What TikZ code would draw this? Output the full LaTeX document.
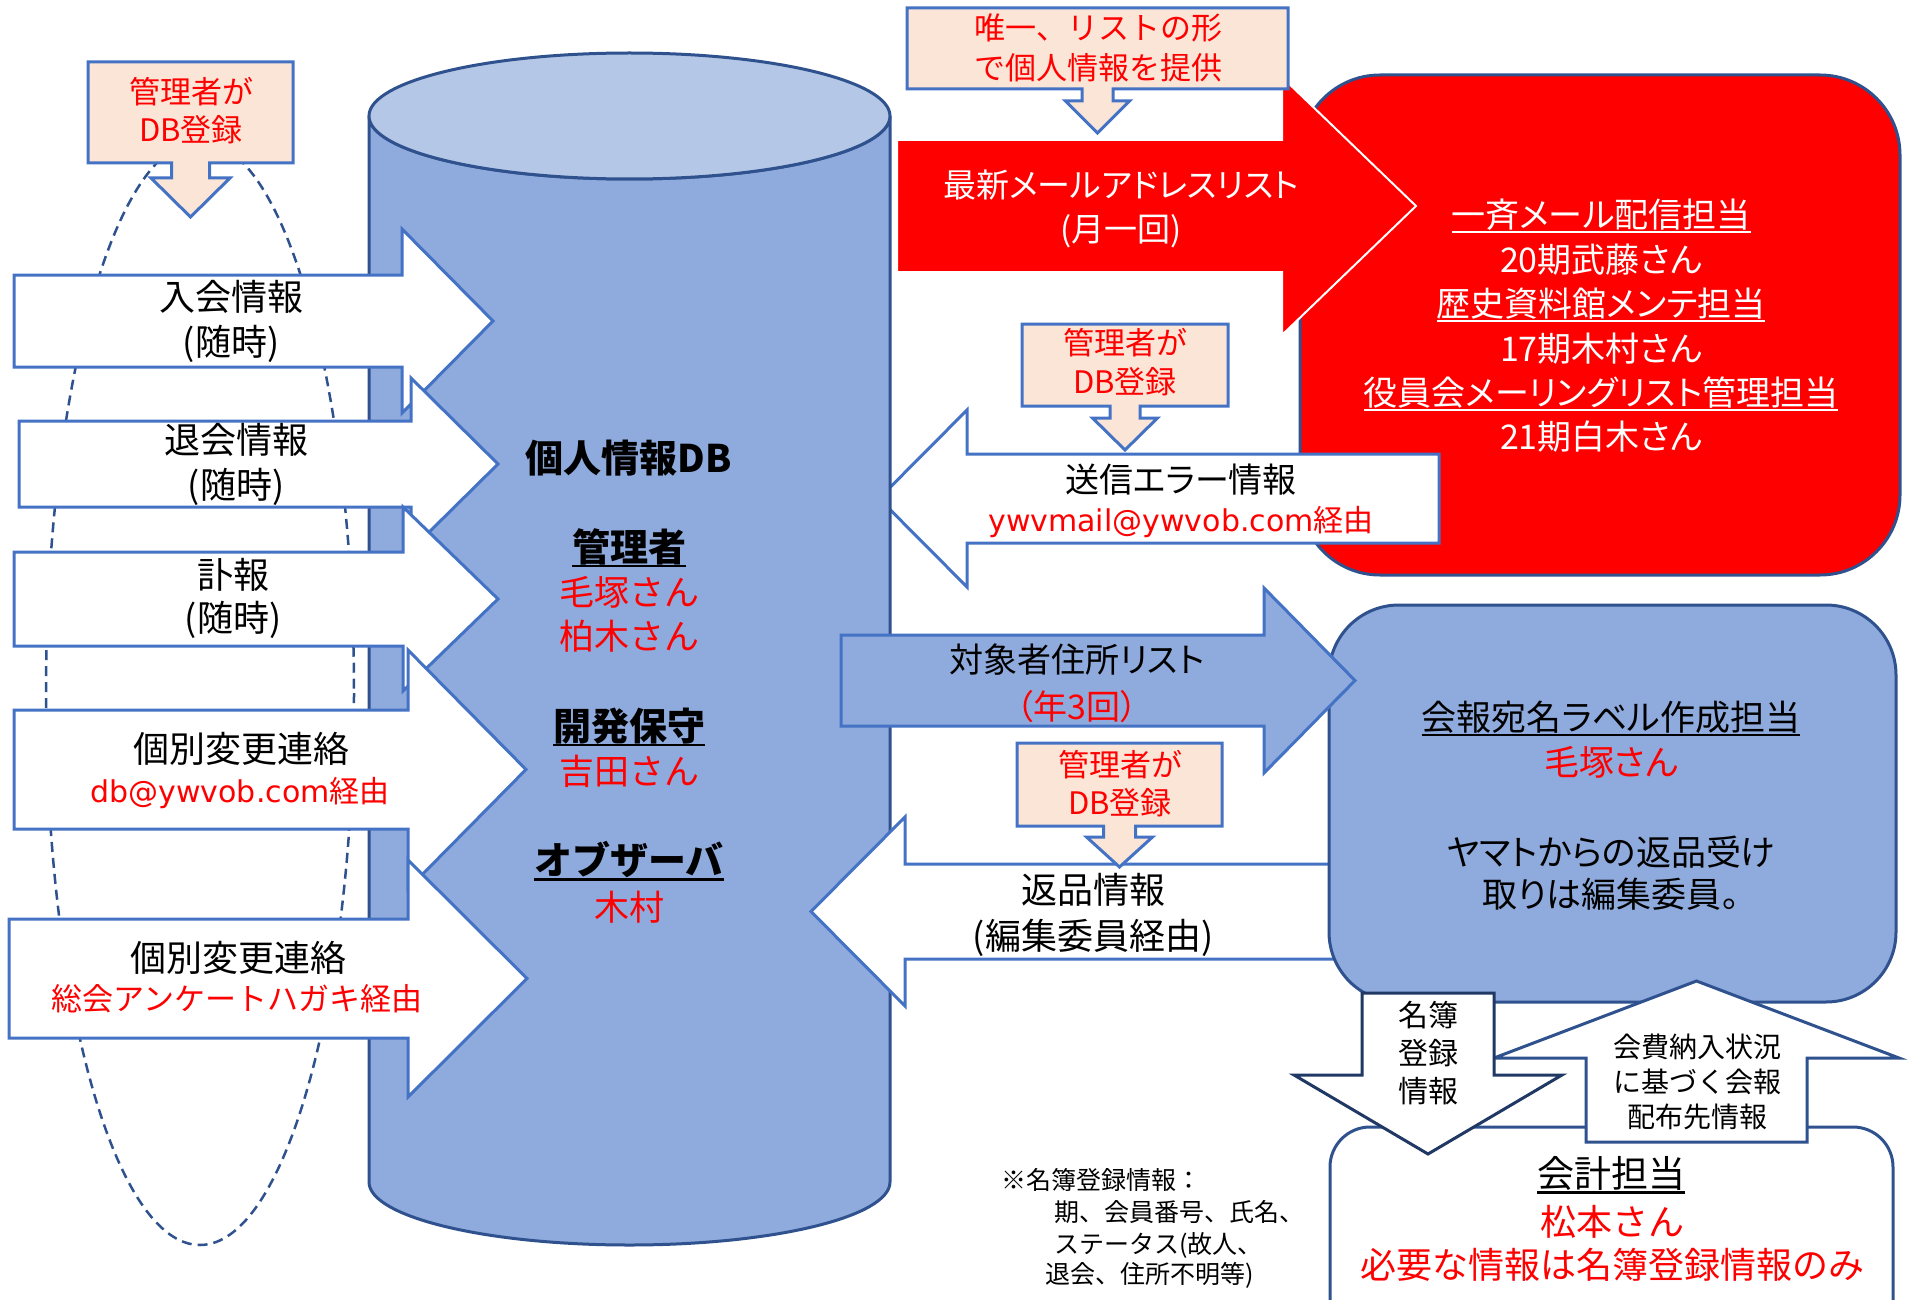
\documentclass[tikz,border=0pt]{standalone}
\usepackage{fontspec}
\setmainfont{Noto Sans CJK JP}
\newfontfamily\pjp[RawFeature=+palt]{Noto Sans CJK JP}
\newfontfamily\lat{DejaVu Sans}
\definecolor{callfill}{HTML}{FBE5D6}
\definecolor{blueline}{HTML}{4472C4}
\definecolor{darkline}{HTML}{2F528F}
\definecolor{cylfill}{HTML}{8FAADC}
\definecolor{cyltop}{HTML}{B4C7E7}
\definecolor{navyline}{HTML}{203864}
\definecolor{pptred}{HTML}{FF0000}
\newcommand\fsz[2]{\fontsize{#1}{#2}\selectfont}
\newcommand\ulx[1]{\leavevmode\setbox0=\hbox{#1}\rlap{\rule[-0.16em]{\wd0}{0.06em}}\box0}
% horizontal block arrow: style, start x, body top, body bottom, neck x, head top, tip x
\newcommand\harrow[7]{\path[#1] (#2,#3) -- (#5,#3) -- (#5,#6) -- (#7,{(#3+#4)/2}) -- (#5,{#3+#4-#6}) -- (#5,#4) -- (#2,#4) -- cycle;}
% vertical block arrow: style, start y, body left, body right, neck y, head left, tip y
\newcommand\varrow[7]{\path[#1] (#3,#2) -- (#3,#5) -- (#6,#5) -- ({(#3+#4)/2},#7) -- ({#3+#4-#6},#5) -- (#4,#5) -- (#4,#2) -- cycle;}
% down-arrow callout: x1 y1 x2 y2 stemhalf necky headhalf tipy
\newcommand\callout[8]{\path[callstyle] (#1,#2) -- (#3,#2) -- (#3,#4) -- ({(#1+#3)/2+#5},#4) -- ({(#1+#3)/2+#5},#6) -- ({(#1+#3)/2+#7},#6) -- ({(#1+#3)/2},#8) -- ({(#1+#3)/2-#7},#6) -- ({(#1+#3)/2-#5},#6) -- ({(#1+#3)/2-#5},#4) -- (#1,#4) -- cycle;}
\begin{document}
\begin{tikzpicture}[x=1pt,y=-1pt,
  arrw/.style={draw=blueline,fill=white,line width=3pt,line join=miter},
  arrwdark/.style={draw=darkline,fill=white,line width=3pt,line join=miter},
  arrwnavy/.style={draw=navyline,fill=white,line width=3pt,line join=miter},
  bluearr/.style={draw=blueline,fill=cylfill,line width=3pt,line join=miter},
  redarr/.style={draw=white,fill=pptred,line width=2pt,line join=miter},
  callstyle/.style={draw=blueline,fill=callfill,line width=3pt,line join=miter},
  txt/.style={inner sep=0pt,align=center}]
\fill[white] (0,0) rectangle (1909,1300);
\useasboundingbox (0,0) rectangle (1909,1300);
% dashed grouping ellipse
\draw[darkline,line width=2.5pt,dash pattern=on 10pt off 6pt] (200,693) ellipse [x radius=154, y radius=552];
% red box
\draw[darkline,fill=pptred,line width=3pt,rounded corners=80pt] (1300,75) rectangle (1900,575);
% send error arrow (behind DB)
\harrow{arrw}{1439}{454}{543}{967}{410}{879}
% cylinder
\path[draw=darkline,fill=cylfill,line width=3pt] (369,116) -- (369,1182) arc[start angle=180,end angle=0,x radius=260.5,y radius=63] -- (890,116) arc[start angle=0,end angle=180,x radius=260.5,y radius=63] -- cycle;
\draw[darkline,fill=cyltop,line width=3pt] (629.5,116) ellipse [x radius=260.5, y radius=63];
% left arrows
\harrow{arrw}{14}{275}{367}{402}{229}{493}
\harrow{arrw}{19}{421}{507}{411}{378}{498}
\harrow{arrw}{14}{552}{646}{403}{507}{498}
\harrow{arrw}{14}{710}{829}{408}{650}{526}
\harrow{arrw}{9}{919}{1038}{408}{860}{527}
% red arrow
\harrow{redarr}{897}{140}{272}{1282}{77}{1416}
% return arrow, blue box, address list arrow
\harrow{arrw}{1335}{864}{959}{905}{817}{811}
\draw[darkline,fill=cylfill,line width=3pt,rounded corners=70pt] (1329,605) rectangle (1896,1002);
\harrow{bluearr}{841}{635}{726}{1264}{588}{1355}
% callouts
\callout{88}{62}{293}{163}{19}{178}{39.5}{217}
\callout{907}{8}{1288}{89}{15.5}{101}{32}{133}
\callout{1022}{324}{1228}{406}{15}{418}{32.5}{450}
\callout{1017}{743}{1222}{826}{16}{837}{33}{867}
% accounting box and vertical arrows
\draw[darkline,fill=white,line width=3pt,rounded corners=40pt] (1330,1127) rectangle (1893,1345);
\varrow{arrwdark}{1142}{1586}{1807}{1058}{1494}{981}
\varrow{arrwnavy}{993}{1362}{1494}{1075}{1294}{1154}
% texts
\node[txt,text=pptred,font=\fsz{31}{38}] (c1t) at (191,111) {管理者が\\DB登録};
\node[txt,text=pptred,font=\fsz{31}{40}] (c2t) at (1098,48) {唯一、リストの形\\で個人情報を提供};
\node[txt,text=pptred,font=\fsz{31}{39}] (c3t) at (1125,362.5) {管理者が\\DB登録};
\node[txt,text=pptred,font=\fsz{31}{38}] (c4t) at (1120,784) {管理者が\\DB登録};
\node[txt,font=\fsz{36}{45}] (a1t) at (231,321) {入会情報\\(随時)};
\node[txt,font=\fsz{36}{45}] (a2t) at (236,464) {退会情報\\(随時)};
\node[txt,font=\fsz{36}{43}] (a3t) at (233,598) {訃報\\(随時)};
\node[txt,font=\fsz{36}{45}] (a4t) at (241,749) {個別変更連絡};
\node[txt,text=pptred,font=\fsz{30}{36}] (a4s) at (240,793) {{\lat db@ywvob.com}経由};
\node[txt,font=\fsz{36}{45}] (a5t) at (238,958) {個別変更連絡};
\node[txt,text=pptred,font=\fsz{31}{36}] (a5s) at (237,999) {総会アンケートハガキ経由};
\node[txt,font=\bfseries\fsz{38}{40}] (dbt) at (629,458) {個人情報DB};
\node[txt,font=\bfseries\fsz{38}{40}] (m1) at (629,548) {\ulx{管理者}};
\node[txt,text=pptred,font=\fsz{35}{44}] (m2) at (629,614) {毛塚さん\\柏木さん};
\node[txt,font=\bfseries\fsz{38}{40}] (k1) at (629,727) {\ulx{開発保守}};
\node[txt,text=pptred,font=\fsz{35}{44}] (k2) at (629,771) {吉田さん};
\node[txt,font=\bfseries\fsz{38}{40}] (o1) at (629,861) {\ulx{オブザーバ}};
\node[txt,text=pptred,font=\fsz{35}{44}] (o2) at (629,907) {木村};
\node[txt,text=white,font=\pjp\fsz{33}{44}] (rat) at (1121,208.5) {最新メールアドレスリスト\\(月一回)};
\node[txt,text=white,font=\pjp\fsz{34}{44.4}] (rbt) at (1601,326) {\ulx{一斉メール配信担当}\\20期武藤さん\\\ulx{歴史資料館メンテ担当}\\17期木村さん\\\ulx{役員会メーリングリスト管理担当}\\21期白木さん};
\node[txt,font=\pjp\fsz{34}{40}] (sot) at (1181,480) {送信エラー情報};
\node[txt,text=pptred,font=\fsz{30}{36}] (sos) at (1181,522) {{\lat ywvmail@ywvob.com}経由};
\node[txt,font=\pjp\fsz{34}{47}] (tat) at (1077,683.5) {対象者住所リスト\\\textcolor{pptred}{（年3回）}};
\node[txt,font=\fsz{36}{46}] (hpt) at (1093,915) {返品情報\\(編集委員経由)};
\node[txt,font=\pjp\fsz{35}{45}] (kh1) at (1611,739.5) {\ulx{会報宛名ラベル作成担当}\\\textcolor{pptred}{毛塚さん}};
\node[txt,font=\pjp\fsz{35}{42}] (kh2) at (1611,873) {ヤマトからの返品受け\\取りは編集委員。};
\node[txt,font=\fsz{37}{47}] (kk1) at (1611,1175) {\ulx{会計担当}};
\node[txt,text=pptred,font=\fsz{36}{43}] (kk2) at (1612,1243.5) {松本さん\\必要な情報は名簿登録情報のみ};
\node[txt,font=\fsz{30}{38}] (dat) at (1428,1053) {名簿\\登録\\情報};
\node[txt,font=\fsz{28}{35}] (uat) at (1697,1082) {会費納入状況\\に基づく会報\\配布先情報};
\node[txt,anchor=west,font=\fsz{25}{32}] (n1) at (1001,1180) {※名簿登録情報：};
\node[txt,anchor=west,font=\fsz{25}{32}] (n2) at (1054,1212) {期、会員番号、氏名、};
\node[txt,anchor=west,font=\fsz{25}{32}] (n3) at (1054,1245) {ステータス(故人、};
\node[txt,anchor=west,font=\fsz{25}{32}] (n4) at (1045,1275) {退会、住所不明等)};
\end{tikzpicture}
\end{document}
